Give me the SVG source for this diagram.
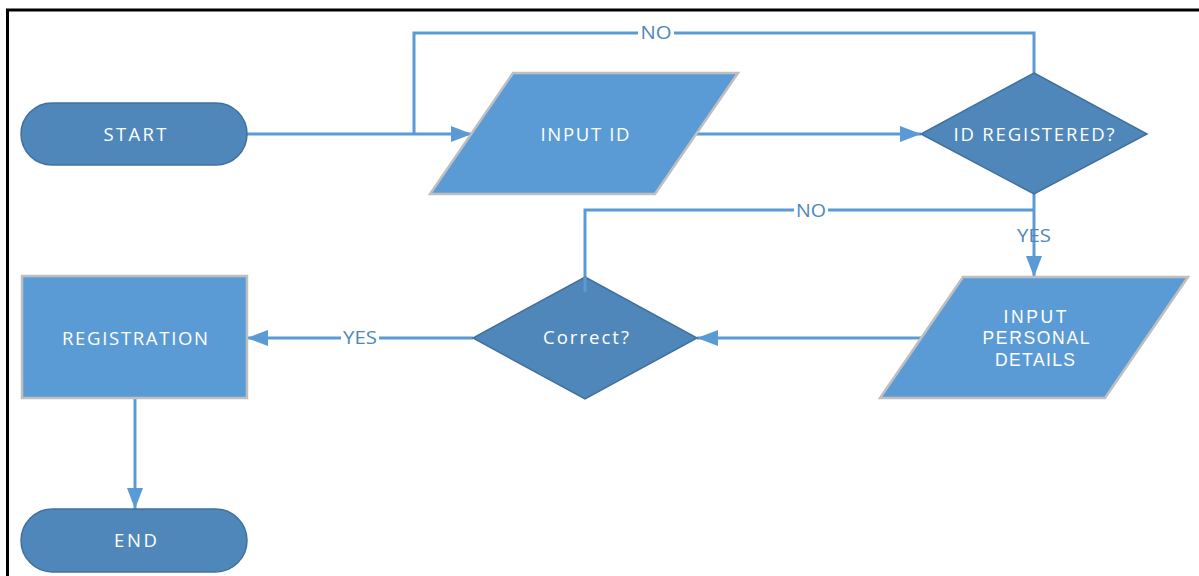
<svg xmlns="http://www.w3.org/2000/svg" width="1199" height="576" viewBox="0 0 1199 576">
  <style>
    .term { fill: #4F87BA; stroke: #41719C; stroke-width: 1.5; }
    .dec { fill: #4F87BA; stroke: #41719C; stroke-width: 1.5; }
    .io { fill: #5B9BD5; stroke: #BFBFBF; stroke-width: 2.5; }
    .proc { fill: #5B9BD5; stroke: #BFBFBF; stroke-width: 2.5; }
    .ntext { font-family: "Open Sans", "Liberation Sans", sans-serif; font-size: 18.5px; fill: #FFFFFF; text-anchor: middle; }
    .ntext.tight { font-family: "Liberation Sans", sans-serif; font-size: 17.5px; }
    .edge { fill: none; stroke: #5B9BD5; stroke-width: 3; }
    .lbl { font-family: "Open Sans", "Liberation Sans", sans-serif; font-size: 17.5px; fill: #4F87BA; text-anchor: middle; }
    .lblbg { fill: #FFFFFF; }
  </style>
  <defs>
    <marker id="arrow" markerUnits="userSpaceOnUse" markerWidth="22" markerHeight="16" refX="21" refY="8" orient="auto">
      <path d="M0,0 L21,8 L0,16 Z" fill="#5B9BD5"/>
    </marker>
  </defs>

  <rect width="1199" height="576" fill="#FFFFFF"/>
  <!-- page frame -->
  <path d="M7.5,576 L7.5,10 L1199,10" fill="none" stroke="#000000" stroke-width="3"/>

  <!-- connectors -->
  <g id="connectors">
    <path class="edge" d="M247,134 L472,134" marker-end="url(#arrow)"/>
    <path class="edge" d="M1034,73 L1034,33 L414,33 L414,134"/>
    <path class="edge" d="M696,134 L921,134" marker-end="url(#arrow)"/>
    <path class="edge" d="M1034,194 L1034,277" marker-end="url(#arrow)"/>
    <path class="edge" d="M1034,210 L585,210 L585,292"/>
    <path class="edge" d="M921,338 L697,338" marker-end="url(#arrow)"/>
    <path class="edge" d="M473,338 L247,338" marker-end="url(#arrow)"/>
    <path class="edge" d="M135,398 L135,509" marker-end="url(#arrow)"/>

    <rect class="lblbg" x="638" y="24" width="36" height="18"/>
    <text class="lbl" x="656" y="38.5" textLength="31" lengthAdjust="spacingAndGlyphs">NO</text>
    <rect class="lblbg" x="794" y="201" width="34" height="18"/>
    <text class="lbl" x="811" y="216.5" textLength="30" lengthAdjust="spacingAndGlyphs">NO</text>
    <text class="lbl" x="1034" y="242.3" textLength="34" lengthAdjust="spacingAndGlyphs">YES</text>
    <rect class="lblbg" x="341" y="329" width="38" height="18"/>
    <text class="lbl" x="360" y="344.3" textLength="34" lengthAdjust="spacingAndGlyphs">YES</text>
  </g>

  <g id="start">
    <rect class="term" x="21" y="103" width="226" height="62" rx="31" ry="31"/>
    <text class="ntext" x="135" y="140.7" textLength="63" lengthAdjust="spacing">START</text>
  </g>

  <g id="input-id">
    <polygon class="io" points="513,73 738,73 655,194 430,194"/>
    <text class="ntext" x="585" y="140.7" textLength="89" lengthAdjust="spacing">INPUT ID</text>
  </g>

  <g id="id-registered">
    <polygon class="dec" points="1034,73 1147,134 1034,194 921,134"/>
    <text class="ntext" x="1034" y="140.7" textLength="161" lengthAdjust="spacing">ID REGISTERED?</text>
  </g>

  <g id="input-personal-details">
    <polygon class="io" points="963,277 1188,277 1105,398 880,398"/>
    <text class="ntext tight" x="1035" y="322.7" textLength="63" lengthAdjust="spacing">INPUT</text>
    <text class="ntext tight" x="1036" y="344.3" textLength="107" lengthAdjust="spacing">PERSONAL</text>
    <text class="ntext tight" x="1035" y="366" textLength="80" lengthAdjust="spacing">DETAILS</text>
  </g>

  <g id="correct">
    <polygon class="dec" points="585,277 697,338 585,399 473,338"/>
    <line x1="585" y1="277" x2="585" y2="292" stroke="#5B9BD5" stroke-width="3"/>
    <text class="ntext" x="586" y="344" textLength="86" lengthAdjust="spacing">Correct?</text>
  </g>

  <g id="registration">
    <rect class="proc" x="22" y="276" width="225" height="122"/>
    <text class="ntext" x="135" y="345" textLength="146" lengthAdjust="spacing">REGISTRATION</text>
  </g>

  <g id="end">
    <rect class="term" x="21" y="509" width="226" height="63" rx="31.5" ry="31.5"/>
    <text class="ntext" x="135.5" y="547.3" textLength="43" lengthAdjust="spacing">END</text>
  </g>
</svg>
